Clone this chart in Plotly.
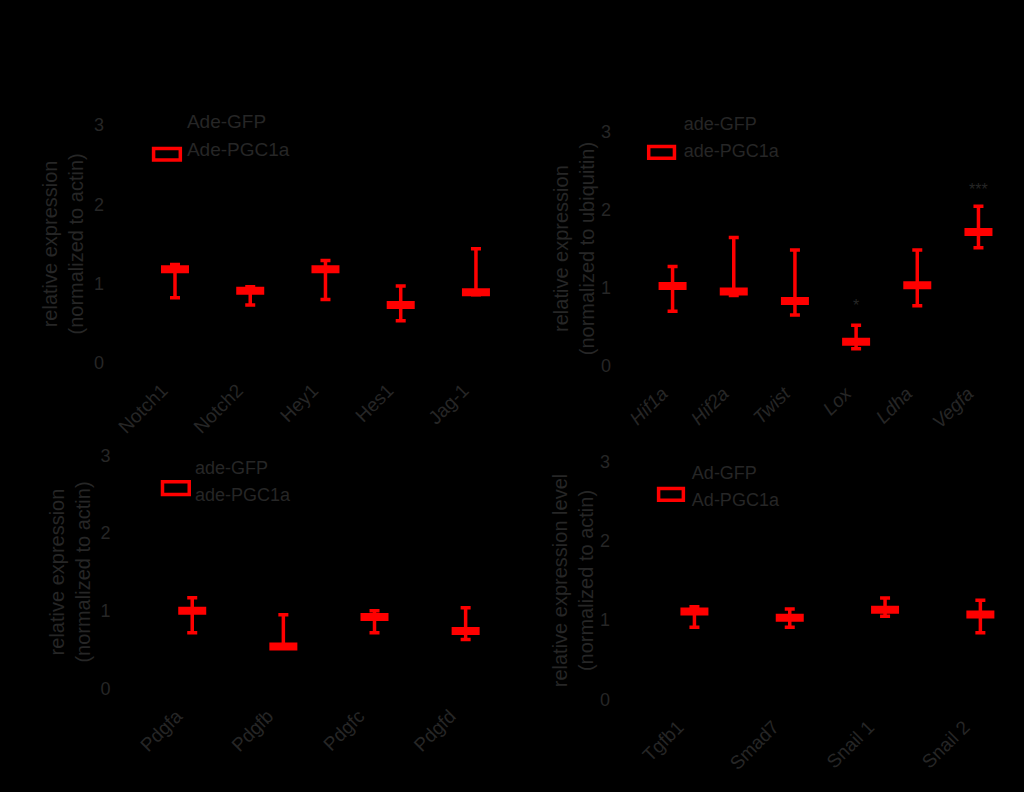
import plotly.graph_objects as go

# panel A: Notch pathway
notch_genes = ["Notch1", "Notch2", "Hey1", "Hes1", "Jag-1"]
notch_gfp = [1.0, 1.0, 1.0, 1.0, 1.0]
notch_pgc = [1.18, 0.91, 1.18, 0.73, 0.89]
notch_err_up = [0.06, 0.05, 0.11, 0.24, 0.55]
notch_err_down = [0.36, 0.18, 0.38, 0.20, 0.03]

# panel B: hypoxia / EMT genes
hyp_genes = ["<i>Hif1a</i>", "<i>Hif2a</i>", "<i>Twist</i>", "<i>Lox</i>", "<i>Ldha</i>", "<i>Vegfa</i>"]
hyp_gfp = [1.0, 1.0, 1.0, 1.0, 1.0, 1.0]
hyp_pgc = [1.02, 0.95, 0.83, 0.31, 1.03, 1.71]
hyp_err_up = [0.25, 0.69, 0.65, 0.21, 0.45, 0.33]
hyp_err_down = [0.32, 0.05, 0.18, 0.09, 0.26, 0.20]
hyp_stars = ["", "", "", "*", "", "***"]
hyp_star_y = [None, None, None, 0.75, None, 2.24]

# panel C: PDGFs
pdgf_genes = ["Pdgfa", "Pdgfb", "Pdgfc", "Pdgfd"]
pdgf_gfp = [1.0, 1.0, 1.0, 1.0]
pdgf_pgc = [1.00, 0.54, 0.92, 0.74]
pdgf_err_up = [0.17, 0.41, 0.08, 0.30]
pdgf_err_down = [0.28, 0.02, 0.20, 0.11]

# panel D: TGF-b signalling
tgf_genes = ["Tgfb1", "Smad7", "Snail 1", "Snail 2"]
tgf_gfp = [1.0, 1.0, 1.0, 1.0]
tgf_pgc = [1.11, 1.03, 1.13, 1.07]
tgf_err_up = [0.06, 0.11, 0.15, 0.18]
tgf_err_down = [0.20, 0.12, 0.08, 0.23]

INK = "#262626"
FONT = "Arial, Liberation Sans, sans-serif"
OFF = 0.17
W, H = 1024, 792

panels = [
    dict(genes=notch_genes, gfp=notch_gfp, pgc=notch_pgc, up=notch_err_up, down=notch_err_down,
         names=("Ade-GFP", "Ade-PGC1a"), ytitle="relative expression<br>(normalized to actin)",
         xdom=[0.113, 0.484], ydom=[0.543, 0.851], leg=(0.135, 0.881), legfont=19,
         swatch=(145, 142, 172, 154), standoff=4),
    dict(genes=hyp_genes, gfp=hyp_gfp, pgc=hyp_pgc, up=hyp_err_up, down=hyp_err_down,
         names=("ade-GFP", "ade-PGC1a"), ytitle="relative expression<br>(normalized to ubiquitin)",
         xdom=[0.613, 0.975], ydom=[0.539, 0.843], leg=(0.625, 0.877), legfont=18,
         swatch=(645, 140, 671, 152), standoff=0),
    dict(genes=pdgf_genes, gfp=pdgf_gfp, pgc=pdgf_pgc, up=pdgf_err_up, down=pdgf_err_down,
         names=("ade-GFP", "ade-PGC1a"), ytitle="relative expression<br>(normalized to actin)",
         xdom=[0.1195, 0.479], ydom=[0.121, 0.423], leg=(0.143, 0.431), legfont=18,
         swatch=(154, 484, 181, 497), standoff=4),
    dict(genes=tgf_genes, gfp=tgf_gfp, pgc=tgf_pgc, up=tgf_err_up, down=tgf_err_down,
         names=("Ad-GFP", "Ad-PGC1a"), ytitle="relative expression level<br>(normalized to actin)",
         xdom=[0.612, 0.988], ydom=[0.107, 0.415], leg=(0.633, 0.425), legfont=18,
         swatch=(655, 491, 680, 503), standoff=0),
]

fig = go.Figure()
layout = {}
shapes = []
for k, p in enumerate(panels, start=1):
    sfx = "" if k == 1 else str(k)
    leg = "legend" if k == 1 else "legend" + str(k)
    idx = list(range(len(p["genes"])))
    fig.add_trace(go.Bar(
        x=[i - OFF for i in idx], y=p["gfp"], width=0.3, name=p["names"][0],
        marker=dict(color="rgba(0,0,0,0)", line=dict(width=0)),
        xaxis="x" + sfx, yaxis="y" + sfx, legend=leg))
    # legend entry for the open red bar (its swatch is drawn as a shape below)
    fig.add_trace(go.Bar(
        x=[None], y=[None], name=p["names"][1],
        marker=dict(color="rgba(0,0,0,0)", line=dict(width=0)),
        xaxis="x" + sfx, yaxis="y" + sfx, legend=leg))
    fig.add_trace(go.Scatter(
        x=[i + OFF for i in idx], y=p["pgc"], mode="markers", showlegend=False,
        marker=dict(symbol="line-ew", size=20, color="red", line=dict(color="red", width=8)),
        error_y=dict(type="data", symmetric=False, array=p["up"], arrayminus=p["down"],
                     color="red", thickness=3.5, width=5),
        xaxis="x" + sfx, yaxis="y" + sfx))
    layout["xaxis" + sfx] = dict(
        domain=p["xdom"], anchor="y" + sfx, range=[-0.5, len(idx) - 0.5],
        tickmode="array", tickvals=idx, ticktext=p["genes"], tickangle=-45,
        ticks="outside", ticklen=8, tickcolor="black", showgrid=False, zeroline=False,
        showline=True, linecolor="black", tickfont=dict(size=19, color=INK))
    layout["yaxis" + sfx] = dict(
        domain=p["ydom"], anchor="x" + sfx, range=[0, 3], tickvals=[0, 1, 2, 3],
        ticks="outside", ticklen=16, tickcolor="black", showgrid=False, zeroline=False,
        showline=True, linecolor="black", tickfont=dict(size=18, color=INK),
        title=dict(text=p["ytitle"], font=dict(size=20, color=INK), standoff=p["standoff"]))
    layout[leg] = dict(x=p["leg"][0], y=p["leg"][1], xanchor="left", yanchor="top",
                       bgcolor="rgba(0,0,0,0)", font=dict(size=p["legfont"], color=INK),
                       tracegroupgap=0)
    x0, y0, x1, y1 = p["swatch"]
    shapes.append(dict(type="rect", xref="paper", yref="paper", layer="above",
                       x0=x0 / W, x1=x1 / W, y0=1 - y1 / H, y1=1 - y0 / H,
                       line=dict(color="red", width=3.5), fillcolor="rgba(0,0,0,0)"))

# significance marks on panel B
hyp_idx = list(range(len(hyp_genes)))
fig.add_trace(go.Scatter(
    x=[i + OFF for i, s in zip(hyp_idx, hyp_stars) if s],
    y=[v for s, v in zip(hyp_stars, hyp_star_y) if s],
    text=[s for s in hyp_stars if s], mode="text", showlegend=False,
    textfont=dict(size=16, color=INK), xaxis="x2", yaxis="y2"))

fig.update_layout(
    width=W, height=H, margin=dict(l=0, r=0, t=0, b=0),
    paper_bgcolor="black", plot_bgcolor="black", barmode="overlay",
    font=dict(family=FONT, color=INK), shapes=shapes, **layout)

page_css = ("var s=document.createElement('style');"
            "s.textContent='html,body{margin:0;padding:0;background:black;overflow:hidden;}';"
            "document.head.appendChild(s);")
fig.write_html("out.html", config={"displayModeBar": False}, post_script=page_css)
